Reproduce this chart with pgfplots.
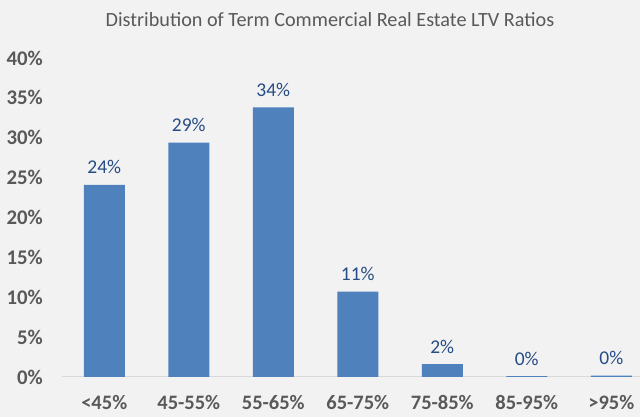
\documentclass[border=0pt]{standalone}
\usepackage{pgfplots}
\usepackage{pgfplotstable}
\pgfplotsset{compat=1.18}
\usepackage{fontspec}
\setmainfont{Carlito}
\definecolor{bgc}{HTML}{F2F2F2}
\definecolor{barc}{HTML}{4F81BD}
\definecolor{valc}{HTML}{264C85}
\definecolor{labc}{HTML}{595959}
\definecolor{linec}{HTML}{D9D9D9}
\pgfplotstableread{
x y label
0 24.1 24\%
1 29.4 29\%
2 33.8 34\%
3 10.7 11\%
4 1.6 2\%
5 0.12 0\%
6 0.18 0\%
}\datatable
\begin{document}
\begin{tikzpicture}[x=1pt,y=1pt]
\fill[bgc] (0,0) rectangle (640,417);
\node[text=labc, font=\fontsize{20.2}{22}\selectfont, inner sep=0pt] at (330,397) {Distribution of Term Commercial Real Estate LTV Ratios};
\begin{axis}[
  at={(62pt,40pt)}, anchor=south west,
  scale only axis, width=577.75pt, height=319pt,
  xmin=-0.5, xmax=6.337, ymin=0, ymax=40,
  axis x line*=bottom, axis y line*=left,
  x axis line style={draw=linec, line width=1pt, -},
  y axis line style={draw=none},
  major tick length=0pt,
  xtick={0,1,2,3,4,5,6},
  xticklabels={<45\%,45-55\%,55-65\%,65-75\%,75-85\%,85-95\%,>95\%},
  ytick={0,5,10,15,20,25,30,35,40},
  yticklabels={0\%,5\%,10\%,15\%,20\%,25\%,30\%,35\%,40\%},
  xticklabel style={font=\bfseries\fontsize{20.5}{22}\selectfont, text=labc, anchor=center, inner sep=0pt, yshift=-26pt},
  yticklabel style={font=\bfseries\fontsize{20.8}{22}\selectfont, text=labc, anchor=east, inner sep=0pt, xshift=-19pt},
  ybar, bar width=41pt,
  point meta=explicit symbolic,
  nodes near coords,
  every node near coord/.append style={font=\fontsize{19.5}{21}\selectfont, text=valc, anchor=center, yshift=17.5pt},
]
\addplot[fill=barc, draw=none] table[x=x, y=y, meta=label] {\datatable};
\end{axis}
\pgfresetboundingbox
\path (0,0) rectangle (640,417);
\end{tikzpicture}
\end{document}
